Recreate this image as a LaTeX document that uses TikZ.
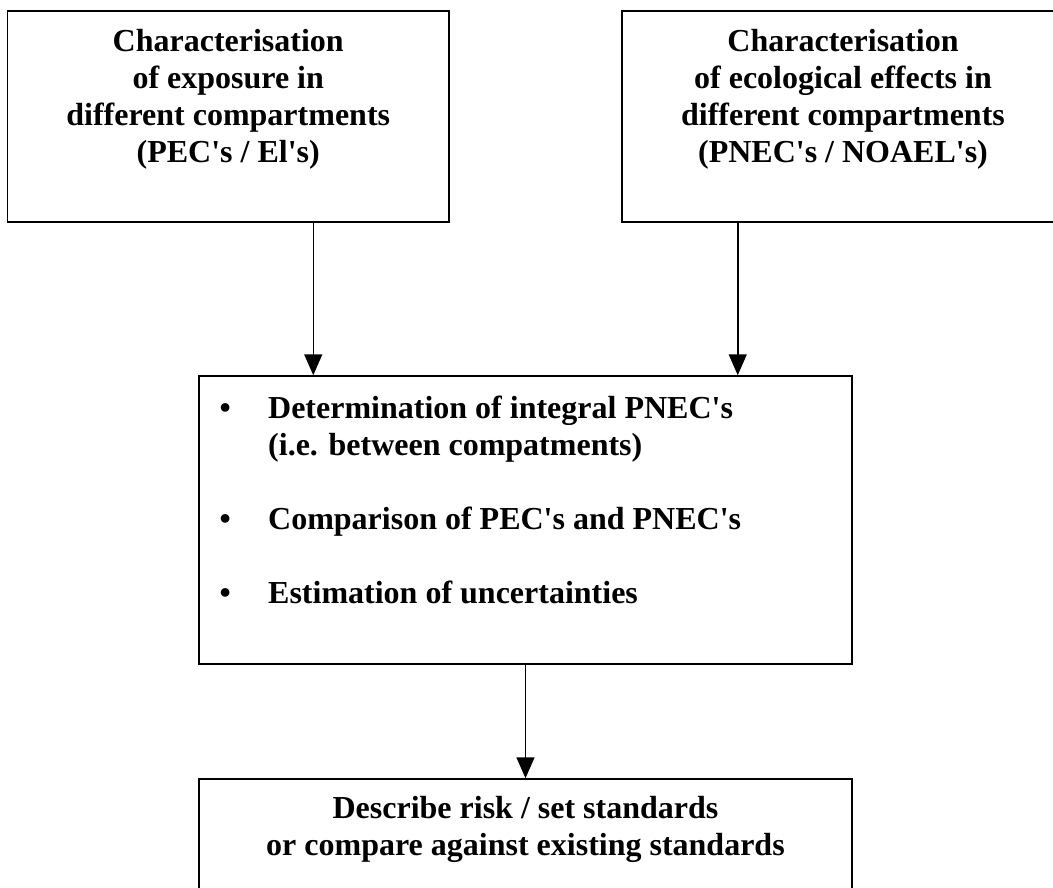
\documentclass[tikz,border=0pt]{standalone}
\usepackage{fontspec}
\setmainfont{Liberation Serif}[Ligatures={TeXOff,CommonOff}]
\usetikzlibrary{arrows.meta}

\tikzset{
  box/.style={draw=black, line width=1.5pt, rectangle, inner sep=0pt},
  label/.style={inner sep=0pt, font=\bfseries\fontsize{32}{37}\selectfont},
  flow/.style={draw=black, line width=1.5pt, -{Triangle[length=21pt,width=18pt]}}
}

\begin{document}
\begin{tikzpicture}[x=1pt, y=-1pt]
  \useasboundingbox (0,0) rectangle (1053,888);
  \clip (0,0) rectangle (1053,888);

  % boxes
  \node[box, minimum width=441.5pt, minimum height=211pt] (expo) at (228.25,116.5) {};
  \node[box, minimum width=442pt, minimum height=211pt] (eco) at (843,116.5) {};
  \node[box, minimum width=653pt, minimum height=288pt] (assess) at (525.5,520) {};
  \node[box, minimum width=653pt, minimum height=136pt] (risk) at (525.5,847) {};

  % texts
  \node[label, anchor=base] (expotext) at (228.25,52)
    {\begin{tabular}[t]{@{}c@{}}Characterisation\\of exposure in\\different compartments\\(PEC's / El's)\end{tabular}};
  \node[label, anchor=base] (ecotext) at (843,52)
    {\begin{tabular}[t]{@{}c@{}}Characterisation\\of ecological effects in\\different compartments\\(PNEC's / NOAEL's)\end{tabular}};
  \node[label, anchor=base west] (assesstext) at (225,418)
    {\begin{tabular}[t]{@{}l@{}}
      \makebox[0pt]{•}\hspace{43pt}Determination of integral PNEC's\\
      \hspace{43pt}(i.e. between compatments)\\
      \\
      \makebox[0pt]{•}\hspace{43pt}Comparison of PEC's and PNEC's\\
      \\
      \makebox[0pt]{•}\hspace{43pt}Estimation of uncertainties
    \end{tabular}};
  \node[label, anchor=base] (risktext) at (525.5,818)
    {\begin{tabular}[t]{@{}c@{}}Describe risk / set standards\\or compare against existing standards\end{tabular}};

  % connectors
  \draw[flow] ([xshift=115pt]assess.north west |- expo.south) -- ([xshift=115pt]assess.north west);
  \draw[flow] ([xshift=-115pt]assess.north east |- eco.south) -- ([xshift=-115pt]assess.north east);
  \draw[flow] (assess.south) -- (risk.north);
\end{tikzpicture}
\end{document}
